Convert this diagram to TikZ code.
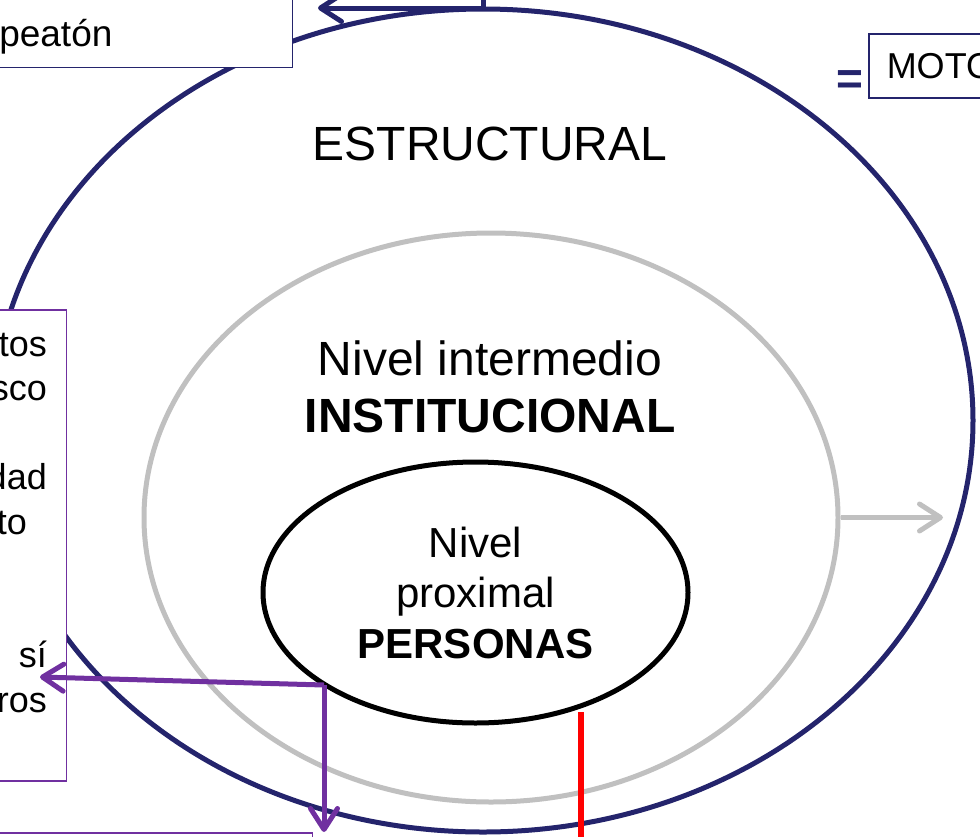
\documentclass[tikz,border=0pt]{standalone}
\usepackage{fontspec}
\setmainfont{Liberation Sans}
\usepackage{xcolor}
\usepackage{tikz}
\usetikzlibrary{shapes.geometric}
\usetikzlibrary{arrows.meta}

\definecolor{azulMarino}{RGB}{36,36,108}
\definecolor{morado}{RGB}{112,48,160}
\definecolor{gris}{RGB}{192,192,192}

\begin{document}
\begin{tikzpicture}[x=1pt, y=-1pt,
	nivel/.style={ellipse, draw, line width=5pt, inner sep=0pt},
	caja/.style={draw, fill=white, line width=1.5pt, inner sep=0pt},
	flecha/.style={line width=5pt, -{Straight Barb[length=21pt, width=27pt, round]}}]
	\useasboundingbox (0,0) rectangle (980,836);
	\clip (0,0) rectangle (980,836);

	\node[nivel, draw=azulMarino, minimum width=980pt, minimum height=823pt] (estructural) at (483,420.5) {};
	\node[nivel, draw=gris, minimum width=694pt, minimum height=569pt] (institucional) at (491,517.5) {};
	\node[nivel, draw=black, minimum width=425pt, minimum height=261pt, align=center, font=\fontsize{42}{50.5}\selectfont] (proximal) at (475.5,592.5) {Nivel\\proximal\\\textbf{PERSONAS}};

	\node[anchor=base, font=\fontsize{48}{57}\selectfont] (tEstructural) at (490,160) {ESTRUCTURAL};
	\node[anchor=north, align=center, font=\fontsize{48}{57}\selectfont] (tInstitucional) at (490,337) {Nivel intermedio\\\textbf{INSTITUCIONAL}};

	\node[caja, draw=azulMarino, anchor=south east, text width=283pt, inner xsep=10pt, text height=90pt, text depth=21pt, align=left, font=\fontsize{37}{44}\selectfont] (peaton) at (293,68) {peatón};
	\node[text=azulMarino, inner sep=0pt, font=\bfseries\fontsize{46}{46}\selectfont] (igual) at (849.5,82.7) {=};
	\node[caja, draw=azulMarino, anchor=west, minimum height=64pt, text width=160pt, inner xsep=18pt, align=left, font=\fontsize{36}{43}\selectfont] (moto) at (868,66) {MOTO};

	\node[caja, draw=morado, anchor=north east, minimum width=100pt, minimum height=471pt] (cajaIzq) at (67,309) {};
	\node[anchor=north east, align=right, inner sep=0pt, font=\fontsize{36}{44.5}\selectfont] (textoIzq) at (47,333) {tos\\sco\\[44.5pt]dad\\to\phantom{d}\\[89pt]sí\\ros};
	\node[caja, draw=morado, anchor=north east, minimum width=400pt, minimum height=100pt] (cajaAbajo) at (313,832) {};

	\coordinate (entradaArriba) at (483,-10);
	\coordinate (puntaArriba) at (318,8);
	\coordinate (salidaGris) at (943,517.5);
	\coordinate (division) at (324,685);
	\coordinate (puntaIzq) at (40,677);
	\coordinate (rojoArriba) at (581,712);
	\coordinate (rojoAbajo) at (581,850);

	\draw[flecha, azulMarino] (entradaArriba) |- (puntaArriba);
	\draw[flecha, gris] (institucional.east) -- (salidaGris);
	\draw[flecha, morado] (division) -- (puntaIzq);
	\draw[flecha, morado] (division) -- (division |- cajaAbajo.north);
	\draw[red, line width=6pt] (rojoArriba) -- (rojoAbajo);
\end{tikzpicture}
\end{document}
